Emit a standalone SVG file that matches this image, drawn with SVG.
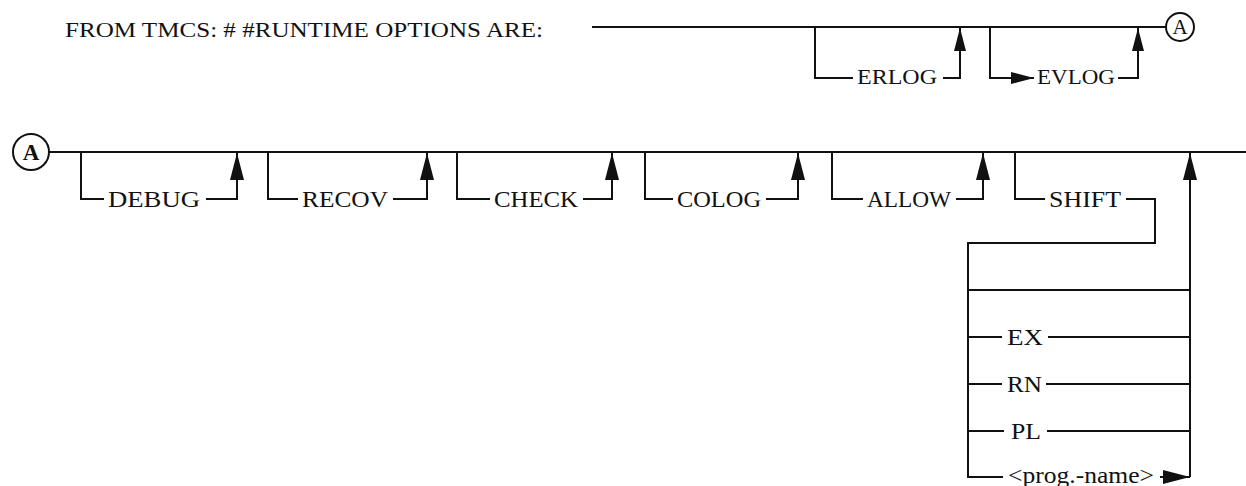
<svg xmlns="http://www.w3.org/2000/svg" width="1246" height="486" viewBox="0 0 1246 486">
<defs>
<style>
.ln{fill:none;stroke:#111;stroke-width:2}
.t1{font-family:"Liberation Serif",serif;font-size:21px;fill:#111}
.t2{font-family:"Liberation Serif",serif;font-size:23px;fill:#111}
.cir{fill:#fff;stroke:#111;stroke-width:2}
</style>
<marker id="arr" markerUnits="userSpaceOnUse" markerWidth="28" markerHeight="14" refX="27" refY="7" orient="auto">
<path d="M0,0 L27,7 L0,14 Z" fill="#111"/>
</marker>
<marker id="arrs" markerUnits="userSpaceOnUse" markerWidth="24" markerHeight="12" refX="23" refY="6" orient="auto">
<path d="M0,0 L23,6 L0,12 Z" fill="#111"/>
</marker>
</defs>
<rect width="1246" height="486" fill="#fff"/>
<g id="title"><text class="t1" x="65" y="37" textLength="478" lengthAdjust="spacingAndGlyphs">FROM TMCS: # #RUNTIME OPTIONS ARE:</text></g>
<g id="connectors">
<path class="ln" d="M592,27 H1166"/>
<path class="ln" d="M815,27 V78 H853"/>
<path class="ln" d="M943,78 H960 V28" marker-end="url(#arrs)"/>
<path class="ln" d="M990,27 V78 H1034" marker-end="url(#arrs)"/>
<path class="ln" d="M1118,78 H1138 V28" marker-end="url(#arrs)"/>
<path class="ln" d="M49,152 H1246"/>
<path class="ln" d="M81,152 V199 H104"/>
<path class="ln" d="M206,199 H237 V153" marker-end="url(#arr)"/>
<path class="ln" d="M268,152 V199 H298"/>
<path class="ln" d="M393,199 H427 V153" marker-end="url(#arr)"/>
<path class="ln" d="M457,152 V199 H490"/>
<path class="ln" d="M583,199 H612 V153" marker-end="url(#arr)"/>
<path class="ln" d="M645,152 V199 H673"/>
<path class="ln" d="M766,199 H798 V153" marker-end="url(#arr)"/>
<path class="ln" d="M832,152 V199 H863"/>
<path class="ln" d="M956,199 H983 V153" marker-end="url(#arr)"/>
<path class="ln" d="M1015,152 V199 H1045"/>
<path class="ln" d="M1126,199 H1155 V243 H968 V477 H1003"/>
<path class="ln" d="M968,290 H1190"/>
<path class="ln" d="M968,337 H1002"/>
<path class="ln" d="M1048,337 H1190"/>
<path class="ln" d="M968,384 H1002"/>
<path class="ln" d="M1046,384 H1190"/>
<path class="ln" d="M968,431 H1004"/>
<path class="ln" d="M1047,431 H1190"/>
<path class="ln" d="M1160,477 H1190" marker-end="url(#arr)"/>
<path class="ln" d="M1190,477 V153" marker-end="url(#arr)"/>
</g>
<g id="connA-top"><circle class="cir" cx="1180" cy="27" r="14"/><text class="t1" x="1180" y="34" text-anchor="middle" font-size="19">A</text></g>
<g id="connA-bottom"><circle class="cir" cx="31" cy="152" r="18"/><text class="t2" x="31" y="160" text-anchor="middle" font-weight="bold" font-size="21">A</text></g>
<g id="erlog"><text class="t1" x="857" y="84" textLength="80" lengthAdjust="spacingAndGlyphs">ERLOG</text></g>
<g id="evlog"><text class="t1" x="1037" y="84" textLength="78" lengthAdjust="spacingAndGlyphs">EVLOG</text></g>
<g id="debug"><text class="t2" x="108" y="207" textLength="92" lengthAdjust="spacingAndGlyphs">DEBUG</text></g>
<g id="recov"><text class="t2" x="302" y="207" textLength="86" lengthAdjust="spacingAndGlyphs">RECOV</text></g>
<g id="check"><text class="t2" x="494" y="207" textLength="84" lengthAdjust="spacingAndGlyphs">CHECK</text></g>
<g id="colog"><text class="t2" x="677" y="207" textLength="84" lengthAdjust="spacingAndGlyphs">COLOG</text></g>
<g id="allow"><text class="t2" x="867" y="207" textLength="84" lengthAdjust="spacingAndGlyphs">ALLOW</text></g>
<g id="shift"><text class="t2" x="1049" y="207" textLength="72" lengthAdjust="spacingAndGlyphs">SHIFT</text></g>
<g id="ex"><text class="t2" x="1007" y="345" textLength="36" lengthAdjust="spacingAndGlyphs">EX</text></g>
<g id="rn"><text class="t2" x="1007" y="392" textLength="35" lengthAdjust="spacingAndGlyphs">RN</text></g>
<g id="pl"><text class="t2" x="1011" y="439" textLength="30" lengthAdjust="spacingAndGlyphs">PL</text></g>
<g id="progname"><text class="t2" x="1008" y="483" textLength="146" lengthAdjust="spacingAndGlyphs">&lt;prog.-name&gt;</text></g>
</svg>
